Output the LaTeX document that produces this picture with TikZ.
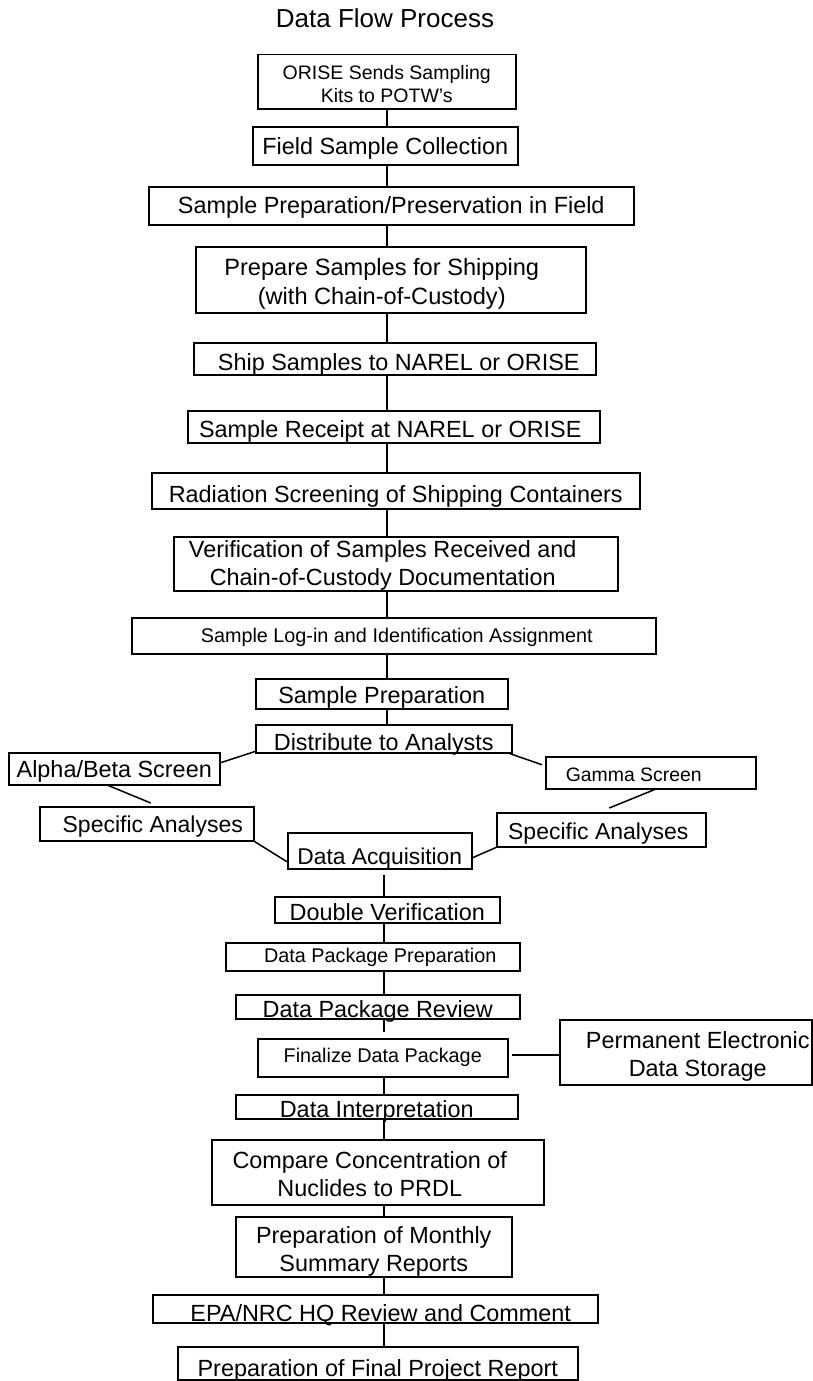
\documentclass[tikz,border=0pt]{standalone}
\usepackage{fontspec}
\setmainfont{Liberation Sans}
\newcommand{\boxfont}{\fontsize{23.4}{28}\selectfont}
\newcommand{\boxfontsm}{\fontsize{19.8}{23}\selectfont}

\begin{document}
\begin{tikzpicture}[x=1pt, y=-1pt, line width=1.5pt]
\tikzset{proc/.style={draw, line width=1.5pt, inner sep=0pt,
                      anchor=north west, align=center, font=\boxfont}}
\useasboundingbox (0,0) rectangle (813,1381);
\coordinate (spine) at (387,0);
\coordinate (spinelow) at (384,0);

\node(title) [font=\fontsize{26}{30}\selectfont] at (385,18) {Data Flow Process};

\node(orise) [proc, minimum width=258pt, minimum height=54pt,
              font=\fontsize{19.5}{23}\selectfont] at (257,54)
  {\rule{0pt}{19pt}ORISE Sends Sampling\\ Kits to POTW's};
\node(field) [proc, minimum width=265pt, text height=28pt, text depth=10pt] at (252,126)
  {Field Sample Collection};
\node(sppf) [proc, minimum width=485pt, text height=27pt, text depth=11pt] at (148,186)
  {Sample Preparation/Preservation in Field};
\node(prepare) [proc, minimum width=390pt, minimum height=66pt,
                font=\fontsize{23.6}{29}\selectfont] at (195,246)
  {\rule{0pt}{25pt}Prepare Samples for Shipping\hspace*{18pt}\\ (with Chain-of-Custody)\hspace*{18pt}};
\node(ship) [proc, minimum width=402pt, text height=28pt, text depth=4pt] at (193,342)
  {\hspace*{8pt}Ship Samples to NAREL or ORISE};
\node(receipt) [proc, minimum width=412pt, text height=27pt, text depth=5pt] at (187,410)
  {Sample Receipt at NAREL or ORISE\hspace*{7pt}};
\node(radiation) [proc, minimum width=488pt, text height=30pt, text depth=6pt] at (151,472)
  {Radiation Screening of Shipping Containers};
\node(verif) [proc, minimum width=444pt, minimum height=54pt] at (173,536)
  {\rule{0pt}{21pt}Verification of Samples Received and\hspace*{26pt}\\
   Chain-of-Custody Documentation\hspace*{26pt}};
\node(login) [proc, minimum width=524pt, text height=25pt, text depth=11pt,
              font=\boxfontsm] at (131,617)
  {\hspace*{6pt}Sample Log-in and Identification Assignment};
\node(sprep) [proc, minimum width=252pt, text height=25pt, text depth=5pt] at (255,678)
  {Sample Preparation};
\node(distrib) [proc, minimum width=256pt, text height=26pt, text depth=2pt] at (255,724)
  {Distribute to Analysts};

\node(alpha) [proc, minimum width=211pt, text height=25pt, text depth=7pt] at (8,752)
  {Alpha/Beta Screen};
\node(gamma) [proc, minimum width=210pt, text height=25pt, text depth=7pt,
              font=\fontsize{19.4}{23}\selectfont] at (545,756)
  {Gamma Screen\hspace*{34pt}};
\node(specl) [proc, minimum width=214pt, text height=26pt, text depth=8pt,
              font=\fontsize{23}{28}\selectfont] at (39,806)
  {\hspace*{12pt}Specific Analyses};
\node(specr) [proc, minimum width=209pt, text height=27pt, text depth=7pt,
              font=\fontsize{23}{28}\selectfont] at (496,812)
  {Specific Analyses\hspace*{6pt}};
\node(dacq) [proc, minimum width=184pt, text height=32pt, text depth=4pt,
             font=\fontsize{22.8}{28}\selectfont] at (287,832)
  {Data Acquisition};

\node(dver) [proc, minimum width=225pt, text height=24pt, text depth=2pt] at (274,896)
  {Double Verification};
\node(dpprep) [proc, minimum width=294pt, text height=20pt, text depth=8pt,
               font=\boxfontsm] at (225,942)
  {\hspace*{15pt}Data Package Preparation};
\node(dprev) [proc, minimum width=284pt, text height=23pt, text depth=1pt] at (235,994)
  {Data Package Review};
\node(final) [proc, minimum width=250pt, text height=24pt, text depth=14pt,
              font=\boxfontsm] at (257,1038)
  {Finalize Data Package};
\node(perm) [proc, minimum width=252pt, minimum height=65pt] at (559,1019)
  {\rule{0pt}{25pt}\hspace*{24pt}Permanent Electronic\\ \hspace*{24pt}Data Storage};
\node(interp) [proc, minimum width=282pt, text height=23pt, text depth=1pt] at (235,1094)
  {Data Interpretation};
\node(compare) [proc, minimum width=332pt, minimum height=65pt] at (211,1139)
  {\rule{0pt}{21pt}Compare Concentration of\hspace*{16pt}\\ Nuclides to PRDL\hspace*{16pt}};
\node(monthly) [proc, minimum width=276pt, minimum height=60pt] at (235,1216)
  {\rule{0pt}{27pt}Preparation of Monthly\\ Summary Reports};
\node(epa) [proc, minimum width=445pt, text height=27pt, text depth=1pt] at (152,1294)
  {\hspace*{11pt}EPA/NRC HQ Review and Comment};
\node(report) [proc, minimum width=400pt, text height=30pt, text depth=3pt] at (177,1346)
  {Preparation of Final Project Report};

\draw (orise.south -| spine) -- (field.north -| spine);
\draw (field.south -| spine) -- (sppf.north -| spine);
\draw (sppf.south -| spine) -- (prepare.north -| spine);
\draw (prepare.south -| spine) -- (ship.north -| spine);
\draw (ship.south -| spine) -- (receipt.north -| spine);
\draw (receipt.south -| spine) -- (radiation.north -| spine);
\draw (radiation.south -| spine) -- (verif.north -| spine);
\draw (verif.south -| spine) -- (login.north -| spine);
\draw (login.south -| spine) -- (sprep.north -| spine);
\draw (sprep.south -| spine) -- (distrib.north -| spine);

\draw ([yshift=2pt]distrib.south west) -- ([yshift=6pt]alpha.east);
\draw ([xshift=-6pt]alpha.south) -- ([xshift=4pt,yshift=3pt]specl.north);
\draw (specl.south east) -- ([yshift=-11pt]dacq.west);
\draw ([xshift=-3pt]distrib.south east) -- ([xshift=-3pt,yshift=8pt]gamma.west);
\draw ([xshift=4pt]gamma.south) -- ([xshift=8pt,yshift=4pt]specr.north);
\draw ([yshift=-7pt]dacq.east) -- (specr.south west);

\draw [shorten <=5pt] (dacq.south -| spinelow) -- (dver.north -| spinelow);
\draw (dver.south -| spinelow) -- (dpprep.north -| spinelow);
\draw (dpprep.south -| spinelow) -- (dprev.north -| spinelow);
\draw [shorten >=6pt] (dprev.south -| spinelow) -- (final.north -| spinelow);
\draw ([xshift=3pt,yshift=3pt]final.east) -- ([yshift=3pt]final.east -| perm.west);
\draw (final.south -| spinelow) -- (interp.north -| spinelow);
\draw (interp.south -| spinelow) -- (compare.north -| spinelow);
\draw (compare.south -| spinelow) -- (monthly.north -| spinelow);
\draw (monthly.south -| spinelow) -- (epa.north -| spinelow);
\draw (epa.south -| spinelow) -- (report.north -| spinelow);
\end{tikzpicture}
\end{document}
